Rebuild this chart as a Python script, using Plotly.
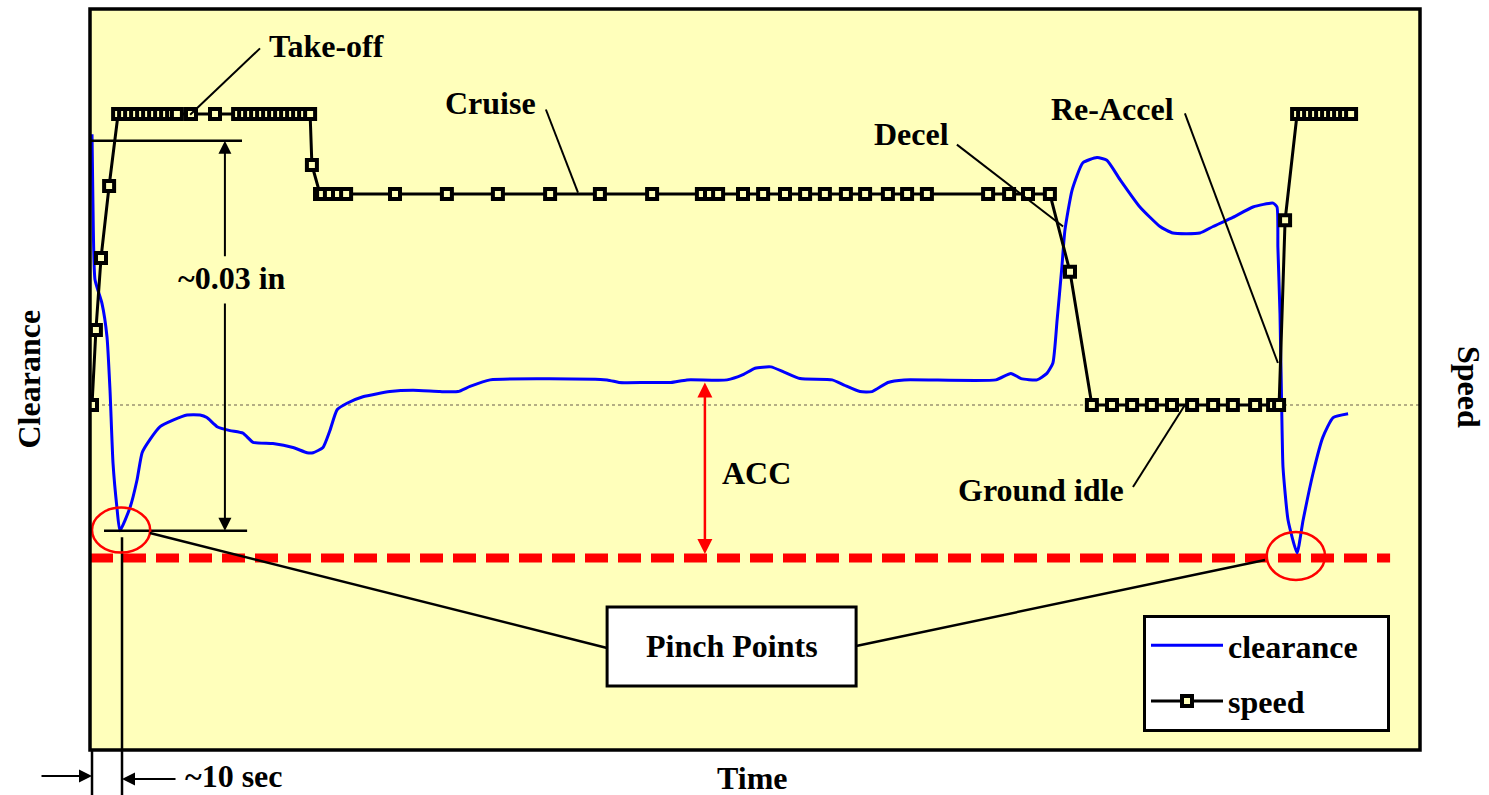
import plotly.graph_objects as go

# ---- data -------------------------------------------------------------
# time in seconds, tip clearance in mils above the pinch limit (0 = limit),
# rotor speed in % of take-off speed
clr_t = [0, 0.3, 1.0, 3.3, 5.0, 6.0, 7.0, 8.3, 9.3, 12.7, 15.0, 16.7, 19.3, 22.7,
         27.0, 31.7, 36.0, 38.3, 41.7, 46.0, 50.3, 53.7, 60.3, 67.0, 71.7, 73.7,
         77.0, 79.3, 81.7, 85.0, 90.3, 99.3, 107.0, 116.0, 122.0, 126.0, 132.7,
         171.7, 175.7, 185.0, 193.0, 198.3, 211.7, 217.0, 221.0, 226.3, 230.7,
         236.0, 246.7, 250.7, 256.0, 260.0, 265.3, 270.7, 301.3, 306.3, 309.7,
         315.0, 318.3, 320.3, 321.7, 323.3, 324.3, 326.7, 330.3, 335.0, 338.3,
         342.7, 349.3, 356.0, 360.3, 369.3, 373.7, 380.3, 387.0, 393.7, 395.0,
         395.3, 396.0, 396.7, 397.0, 398.7, 401.7, 403.7, 407.0, 410.3, 413.7,
         418.7]
clr_mil = [32.6, 27.5, 21.4, 19.6, 17.0, 12.9, 7.3, 3.9, 2.1, 3.9, 6.0, 8.1, 9.1,
           10.1, 10.6, 11.0, 11.0, 10.8, 10.1, 9.8, 9.6, 8.9, 8.8, 8.5, 8.1, 8.1,
           8.5, 9.8, 11.4, 11.9, 12.4, 12.8, 12.9, 12.8, 12.8, 13.2, 13.7,
           13.7, 13.5, 13.5, 13.5, 13.7, 13.7, 14.1, 14.6, 14.7, 14.3,
           13.8, 13.7, 13.3, 12.8, 12.8, 13.5, 13.7, 13.7, 14.2, 13.8,
           13.7, 14.2, 15.0, 18.3, 22.4, 25.2, 28.3, 30.4, 30.8, 30.6,
           29.1, 27.0, 25.5, 25.0, 25.0, 25.5, 26.2, 27.0, 27.3, 27.0,
           23.9, 18.8, 9.8, 7.0, 2.9, 0.4, 2.9, 6.5, 9.3, 10.8,
           11.1]

spd_t = [0, 1.3, 3.0, 5.7, 8.7, 10.7, 12.7, 14.7, 16.7, 18.7, 20.7, 22.7, 24.7,
         26.7, 28.3, 33.0, 41.0, 48.7, 50.7, 52.7, 54.7, 56.7, 58.7, 60.7, 62.7,
         64.7, 66.7, 68.7, 70.7, 72.7, 73.3, 76.0, 76.7, 79.3, 82.0, 84.7, 101.0,
         118.3, 135.3, 152.7, 169.3, 186.7, 203.3, 206.0, 208.7, 217.0, 223.7,
         231.0, 237.7, 244.3, 251.3, 257.7, 265.3, 271.7, 278.3, 298.7, 305.7,
         312.0, 319.3, 326.0, 333.3, 340.0, 346.7, 353.3, 360.0, 366.7, 373.7,
         380.3, 387.7, 393.7, 395.7, 397.7, 401.7, 403.7, 405.7, 407.7, 409.7,
         411.7, 413.7, 415.7, 417.7, 419.7]
spd_pct = [60, 70.3, 80.2, 90.1, 100, 100, 100, 100, 100, 100, 100, 100, 100,
           100, 100, 100, 100, 100, 100, 100, 100, 100, 100, 100, 100,
           100, 100, 100, 100, 100, 93.0, 89, 89, 89, 89, 89, 89,
           89, 89, 89, 89, 89, 89, 89, 89, 89, 89,
           89, 89, 89, 89, 89, 89, 89, 89, 89, 89,
           89, 89, 78.3, 60, 60, 60, 60, 60, 60, 60,
           60, 60, 60, 60, 85.4, 100, 100, 100, 100, 100,
           100, 100, 100, 100, 100]

PINCH_LIMIT = 0.0          # mils
IDLE_SPEED = 60            # %
LIMIT_END_T = 432.7        # s, extent of the pinch-limit line
DIM_TOP, DIM_BOTTOM = 32.1, 2.1   # mils, ~0.03 in dimension
ACC_T, ACC_TOP = 204.3, 13.5
TEN_SEC = 10

# ---- axes ranges --------------------------------------------------------
T_MIN, T_MAX = -0.67, 442.67
CLR_MIN, CLR_MAX = -14.77, 42.23
SPD_MIN, SPD_MAX = 12.58, 114.43

W, H = 1489, 795
ML, MR, MT, MB = 90, 69, 9, 45
PLOT_W, PLOT_H = W - ML - MR, H - MT - MB


def xp(t):
    return (t - T_MIN) / (T_MAX - T_MIN)


def yp(v):
    return (v - CLR_MIN) / (CLR_MAX - CLR_MIN)


def ypix(pix_below_plot):
    return -pix_below_plot / PLOT_H


SERIF = "Liberation Serif, Times New Roman, serif"
FONT = dict(family=SERIF, size=32, color="black", weight="bold")
BG = "#FFFFBB"
NBSP = "\u00a0"

fig = go.Figure()

fig.add_trace(go.Scatter(
    x=[T_MIN, LIMIT_END_T], y=[PINCH_LIMIT, PINCH_LIMIT], mode="lines",
    line=dict(color="#FF0000", width=9, dash="23px,10px"),
    showlegend=False, hoverinfo="skip"))

fig.add_trace(go.Scatter(
    x=clr_t, y=clr_mil, name="clearance" + NBSP * 3, mode="lines",
    line=dict(color="#0000FF", width=3, shape="spline", smoothing=0.5),
    legendgroup="a"))

fig.add_trace(go.Scatter(
    x=spd_t, y=spd_pct, name="speed", mode="lines+markers", yaxis="y2",
    line=dict(color="black", width=3),
    marker=dict(symbol="square", size=10, color=BG,
                line=dict(width=4, color="black")),
    legendgroup="b"))

shapes = []
line_blk = dict(color="black", width=2.5)

# idle-speed reference
shapes.append(dict(type="line", xref="x", yref="y2", x0=T_MIN, x1=T_MAX,
                   y0=IDLE_SPEED, y1=IDLE_SPEED,
                   line=dict(color="#B4AE84", width=2, dash="dot"), layer="below"))

# ~0.03 in dimension lines
shapes.append(dict(type="line", xref="x", yref="y", x0=T_MIN, x1=50.0,
                   y0=DIM_TOP, y1=DIM_TOP, line=line_blk))
shapes.append(dict(type="line", xref="x", yref="y", x0=4.0, x1=51.7,
                   y0=DIM_BOTTOM, y1=DIM_BOTTOM, line=line_blk))

# ~10 sec extension lines
shapes.append(dict(type="line", xref="x", yref="paper", x0=TEN_SEC, x1=TEN_SEC,
                   y0=ypix(45), y1=yp(1.6), line=line_blk))
shapes.append(dict(type="line", xref="paper", yref="paper", x0=xp(0), x1=xp(0),
                   y0=ypix(45), y1=0, line=line_blk))

# pinch point circles
for cx, cy, rx, ry in [(9.7, 2.15, 9.7, 1.73), (401.3, 0.15, 9.7, 1.85)]:
    shapes.append(dict(type="circle", xref="x", yref="y", x0=cx - rx, x1=cx + rx,
                       y0=cy - ry, y1=cy + ry, line=dict(color="#FF0000", width=2.5)))

# pinch points callout
shapes.append(dict(type="line", xref="x", yref="y", x0=19.3, y0=1.92,
                   x1=171.7, y1=-6.92, line=line_blk))
shapes.append(dict(type="line", xref="x", yref="y", x0=254.7, y0=-6.77,
                   x1=391.0, y1=-0.15, line=line_blk))
shapes.append(dict(type="rect", xref="x", yref="y", x0=171.7, x1=254.7,
                   y0=-9.85, y1=-3.77, fillcolor="white",
                   line=dict(color="black", width=3)))

# phase label leaders
for x0, y0, x1, y1 in [(56.0, 39.2, 32.7, 34.1),      # Take-off
                       (151.3, 34.5, 162.0, 28.1),    # Cruise
                       (288.3, 31.8, 323.7, 25.5),    # Decel
                       (364.3, 34.2, 395.3, 15.0),    # Re-Accel
                       (347.0, 5.46, 364.3, 11.77)]:  # Ground idle
    shapes.append(dict(type="line", xref="x", yref="y", x0=x0, y0=y0,
                       x1=x1, y1=y1, line=dict(color="black", width=2)))

# plot frame
shapes.append(dict(type="rect", xref="paper", yref="paper", x0=0, x1=1, y0=0, y1=1,
                   line=dict(color="black", width=3.5), layer="above"))

annotations = []


def label(text, x, y, **kw):
    d = dict(text=text, x=x, y=y, xref="x", yref="y", showarrow=False, font=FONT)
    d.update(kw)
    annotations.append(d)


label("Take-off", 78.3, 39.4)
label("Cruise", 132.7, 35.0)
label("Decel", 273.0, 32.6)
label("Re-Accel", 340.3, 34.5)
label("Ground idle", 316.3, 5.2)
label("~0.03 in", 46.7, 21.5)
label("ACC", 221.5, 6.5)
label("Pinch Points", 213.2, -6.8)

arrow = dict(text="", showarrow=True, arrowhead=2, arrowsize=1.3, arrowwidth=2,
             arrowcolor="black", standoff=0, startstandoff=0)

annotations.append(dict(arrow, x=44.3, y=DIM_TOP, ax=44.3, ay=23.1,
                        xref="x", yref="y", axref="x", ayref="y"))
annotations.append(dict(arrow, x=44.3, y=DIM_BOTTOM, ax=44.3, ay=19.7,
                        xref="x", yref="y", axref="x", ayref="y"))
annotations.append(dict(arrow, x=ACC_T, y=ACC_TOP, ax=ACC_T, ay=PINCH_LIMIT + 0.2,
                        xref="x", yref="y", axref="x", ayref="y",
                        arrowcolor="#FF0000", arrowwidth=2.5, arrowside="end+start",
                        arrowsize=1.2))
annotations.append(dict(arrow, x=xp(0), y=ypix(26), ax=-52, ay=0,
                        xref="paper", yref="paper"))
annotations.append(dict(arrow, x=xp(TEN_SEC), y=ypix(29), ax=55, ay=0,
                        xref="paper", yref="paper"))
annotations.append(dict(text="~10 sec", x=xp(TEN_SEC) + 61 / PLOT_W, y=ypix(26),
                        xref="paper", yref="paper", xanchor="left", yanchor="middle",
                        showarrow=False, font=FONT))

# axis titles
annotations.append(dict(text="Clearance", x=-62 / PLOT_W, y=0.5, xref="paper",
                        yref="paper", xanchor="center", yanchor="middle",
                        textangle=-90, showarrow=False, font=FONT))
annotations.append(dict(text="Speed", x=1 + 49 / PLOT_W, y=0.49, xref="paper",
                        yref="paper", xanchor="center", yanchor="middle",
                        textangle=90, showarrow=False, font=FONT))
annotations.append(dict(text="Time", x=0.498, y=ypix(28), xref="paper",
                        yref="paper", xanchor="center", yanchor="middle",
                        showarrow=False, font=FONT))

axis_common = dict(showgrid=False, zeroline=False, showticklabels=False,
                   ticks="", showline=False)

fig.update_layout(
    width=W, height=H,
    margin=dict(l=ML, r=MR, t=MT, b=MB, pad=0),
    paper_bgcolor="white", plot_bgcolor=BG,
    xaxis=dict(range=[T_MIN, T_MAX], **axis_common),
    yaxis=dict(range=[CLR_MIN, CLR_MAX], **axis_common),
    yaxis2=dict(range=[SPD_MIN, SPD_MAX], overlaying="y", side="right", **axis_common),
    shapes=shapes, annotations=annotations,
    showlegend=True,
    legend=dict(x=(1143 - ML) / PLOT_W, y=(750 - 615) / PLOT_H, xanchor="left",
                yanchor="top", bgcolor="white", bordercolor="black", borderwidth=3,
                font=FONT, itemwidth=72, traceorder="grouped", tracegroupgap=11),
    hovermode=False,
)

fig.write_html("out.html")
